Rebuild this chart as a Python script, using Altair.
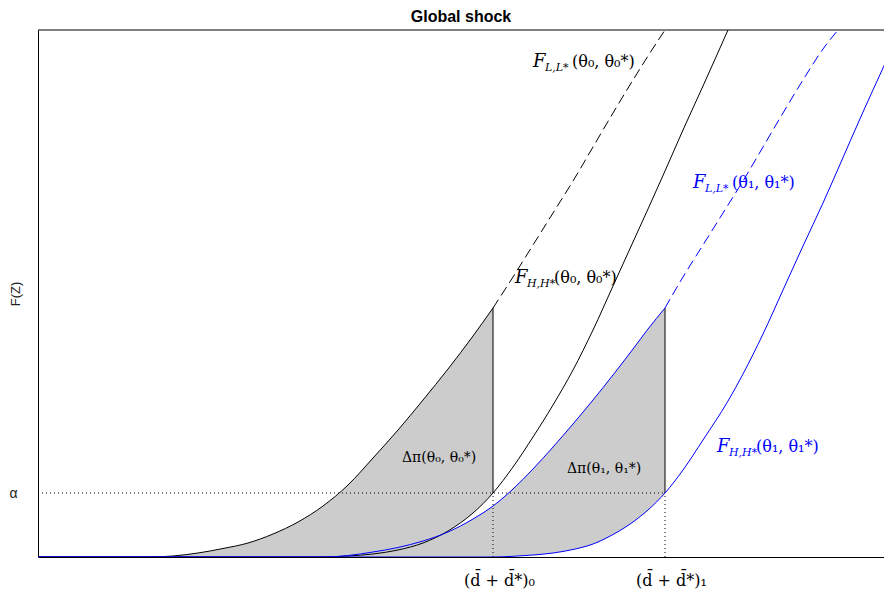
import altair as alt
import pandas as pd

# ---- data (x in plot units 0..846, F(Z) in plot units 0..527) ----
x_grid = [0, 60, 110, 135, 160, 185, 210, 235, 260, 285, 310, 335, 360, 385, 410, 435, 455, 475,
          495, 515, 535, 555, 575, 595, 610, 627, 645, 665, 690, 705, 725, 745, 765, 785, 800,
          825, 845, 854]
F_LL_0 = [0, 0, 0, 1, 4, 8.5, 14, 23, 35, 51, 72, 99, 127, 157, 188, 221, 249, 280, 312, 344,
          376, 410, 444, 477, 501, 527] + [None] * 12
F_HH_0 = [0] * 10 + [1, 3, 7, 14, 26, 44, 64, 90, 120, 152, 187, 227, 271, 315, 348, 386,
                     427, 471, 527] + [None] * 9
F_LL_1 = [0] * 10 + [1.5, 5, 9.5, 16, 25, 38, 51, 68, 88, 110, 133, 157, 182, 208, 228, 249,
                     280, 312, 352, 376, 410, 444, 477, 508, 527] + [None] * 3
F_HH_1 = [0] * 17 + [0.7, 2, 4, 7.5, 13, 22.5, 35, 47, 64, 87, 117, 156, 183, 223, 267, 311, 354,
                     388, 445, 489, 509]

d_cut = [455, 627]          # (d + d*)_0 , (d + d*)_1
alpha = 64
x_max, y_max = 846, 527

x_tick_values = [455, 627]
x_tick_labels = ["(d\u0304 + d\u0304*)\u2080", "(d\u0304 + d\u0304*)\u2081"]
y_tick_values = [64]
y_tick_labels = ["\u03b1"]

lab_x = [495, 477, 655, 679]
lab_y = [490, 274, 369, 105]
lab_sub = ["L,L*", "H,H*", "L,L*", "H,H*"]
lab_args = ["(\u03b8\u2080, \u03b8\u2080*)", "(\u03b8\u2080, \u03b8\u2080*)",
            "(\u03b8\u2081, \u03b8\u2081*)", "(\u03b8\u2081, \u03b8\u2081*)"]
lab_color = ["#000000", "#000000", "#0000ff", "#0000ff"]

dp_x = [364, 529]
dp_y = [95, 84]
dp_text = ["\u0394\u03c0(\u03b8\u2080, \u03b8\u2080*)", "\u0394\u03c0(\u03b8\u2081, \u03b8\u2081*)"]

BLACK, BLUE, GRAY = "#000000", "#0000ff", "#cccccc"

# ---- tables ----
curves = {"LL0": F_LL_0, "HH0": F_HH_0, "LL1": F_LL_1, "HH1": F_HH_1}
curve_col = {"LL0": BLACK, "HH0": BLACK, "LL1": BLUE, "HH1": BLUE}
dash_from = {"LL0": d_cut[0], "LL1": d_cut[1]}

solid_rows, dash_rows = [], []
for name, ys in curves.items():
    for x, y in zip(x_grid, ys):
        if y is None:
            continue
        if name in dash_from:
            if x <= dash_from[name]:
                solid_rows.append({"x": x, "y": y, "seg": name, "c": curve_col[name]})
            if x >= dash_from[name]:
                dash_rows.append({"x": x, "y": y, "seg": name, "c": curve_col[name]})
        else:
            solid_rows.append({"x": x, "y": y, "seg": name, "c": curve_col[name]})
solid_df = pd.DataFrame(solid_rows)
dash_df = pd.DataFrame(dash_rows)

area_rows = []
for x, a, b, c, d in zip(x_grid, F_LL_0, F_HH_0, F_LL_1, F_HH_1):
    if 110 <= x <= d_cut[0]:
        area_rows.append({"x": x, "y": a, "y2": b, "reg": "r0"})
    if 285 <= x <= d_cut[1]:
        area_rows.append({"x": x, "y": c, "y2": d, "reg": "r1"})
area_df = pd.DataFrame(area_rows)

i0, i1 = x_grid.index(d_cut[0]), x_grid.index(d_cut[1])
vert_df = pd.DataFrame({"x": d_cut, "y": [F_HH_0[i0], F_HH_1[i1]], "y2": [F_LL_0[i0], F_LL_1[i1]]})
dotv_df = pd.DataFrame({"x": d_cut, "y": [0, 0], "y2": [alpha, alpha]})
doth_df = pd.DataFrame({"x": [0], "x2": [d_cut[1]], "y": [alpha]})
top_df = pd.DataFrame({"x": [0], "x2": [x_max], "y": [y_max]})

it_rows, rm_rows = [], []
for x, y, s, a, c in zip(lab_x, lab_y, lab_sub, lab_args, lab_color):
    it_rows.append({"x": x, "y": y, "t": "F", "s": 18, "c": c})
    it_rows.append({"x": x + 12, "y": y - 4, "t": s, "s": 11, "c": c})
    rm_rows.append({"x": x + 39, "y": y, "t": a, "s": 16, "c": c})
for x, y, t in zip(dp_x, dp_y, dp_text):
    rm_rows.append({"x": x, "y": y, "t": t, "s": 14, "c": BLACK})
it_df = pd.DataFrame(it_rows)
rm_df = pd.DataFrame(rm_rows)

# ---- encodings ----
xlab_expr = "".join(f"datum.value == {v} ? '{t}' : " for v, t in zip(x_tick_values, x_tick_labels)) + "''"
ylab_expr = "".join(f"datum.value == {v} ? '{t}' : " for v, t in zip(y_tick_values, y_tick_labels)) + "''"

x_axis = alt.Axis(values=x_tick_values, labelExpr=xlab_expr, ticks=False, domain=True,
                  domainColor="black", domainWidth=1, grid=False, labelOffset=6,
                  labelPadding=15, labelFont="DejaVu Serif", labelFontSize=16, labelColor="black",
                  title=None)
y_axis = alt.Axis(values=y_tick_values, labelExpr=ylab_expr, ticks=False, domain=True,
                  domainColor="black", domainWidth=1, grid=False,
                  labelPadding=21, labelFont="Liberation Sans", labelFontSize=14, labelColor="#222222",
                  title="F(Z)", titleFont="Liberation Sans", titleFontSize=13, titleFontWeight="normal",
                  titleColor="#222222", titleX=-16, titleY=263.5, titleBaseline="bottom", titleAngle=270)

X = alt.X("x:Q", scale=alt.Scale(domain=[0, x_max], nice=False, zero=False), axis=x_axis)
Y = alt.Y("y:Q", scale=alt.Scale(domain=[0, y_max], nice=False, zero=False), axis=y_axis)

areas = alt.Chart(area_df).mark_area(color=GRAY, opacity=1, interpolate="monotone").encode(
    x=X, y=Y, y2="y2:Q", detail="reg:N")
solid = alt.Chart(solid_df).mark_line(strokeWidth=1, clip=True, interpolate="monotone").encode(
    x=X, y=Y, detail="seg:N", color=alt.Color("c:N", scale=None))
dashed = alt.Chart(dash_df).mark_line(strokeWidth=1, strokeDash=[10, 5], clip=True,
                                      interpolate="monotone").encode(
    x=X, y=Y, detail="seg:N", color=alt.Color("c:N", scale=None))
verts = alt.Chart(vert_df).mark_rule(color=BLACK, strokeWidth=1).encode(x=X, y=Y, y2="y2:Q")
dotv = alt.Chart(dotv_df).mark_rule(color=BLACK, strokeWidth=1, strokeDash=[1, 3]).encode(x=X, y=Y, y2="y2:Q")
doth = alt.Chart(doth_df).mark_rule(color=BLACK, strokeWidth=1, strokeDash=[1, 3]).encode(x=X, x2="x2:Q", y=Y)
top = alt.Chart(top_df).mark_rule(color=BLACK, strokeWidth=1).encode(x=X, x2="x2:Q", y=Y)
t_it = alt.Chart(it_df).mark_text(align="left", baseline="alphabetic", font="DejaVu Serif",
                                  fontStyle="italic").encode(
    x=X, y=Y, text="t:N", size=alt.Size("s:Q", scale=None), color=alt.Color("c:N", scale=None))
t_rm = alt.Chart(rm_df).mark_text(align="left", baseline="alphabetic", font="DejaVu Serif").encode(
    x=X, y=Y, text="t:N", size=alt.Size("s:Q", scale=None), color=alt.Color("c:N", scale=None))

chart = alt.layer(areas, doth, dotv, verts, solid, dashed, top, t_it, t_rm).properties(
    width=846, height=527,
    title=alt.TitleParams("Global shock", fontSize=16, fontWeight="bold", font="Liberation Sans",
                          anchor="middle", offset=5, color="black"),
    autosize="none",
    padding={"left": 30, "top": 22, "right": 0, "bottom": 40},
).configure_view(stroke=None)

chart.save("out.html", embed_options={"renderer": "svg", "actions": False})
